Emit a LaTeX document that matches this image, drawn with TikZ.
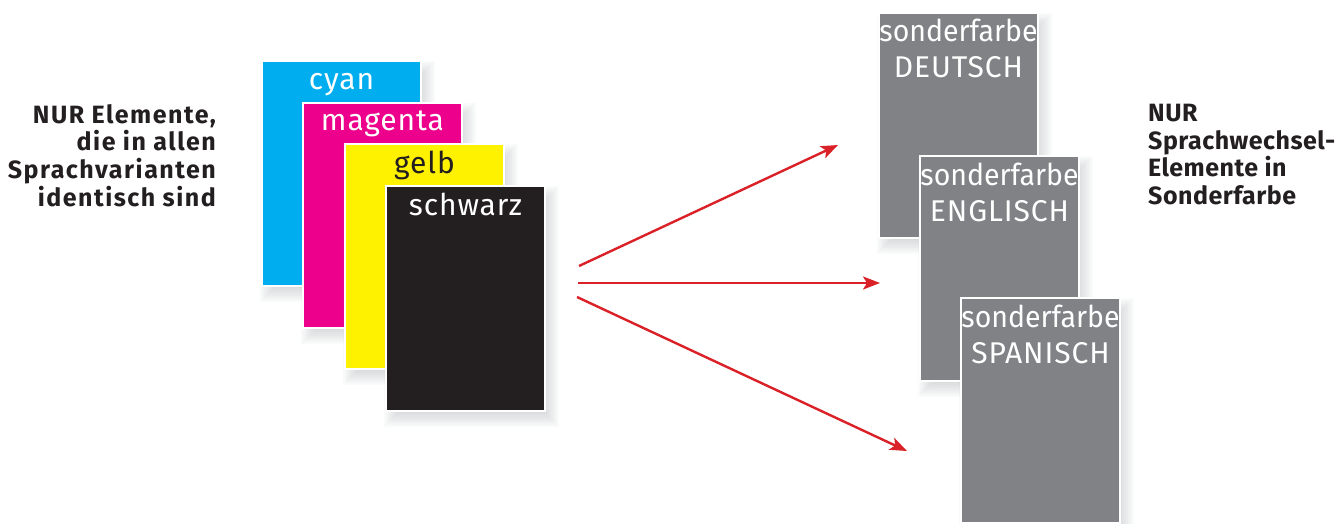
\documentclass[tikz,border=0pt]{standalone}
\usepackage{fontspec}
\setmainfont{Fira Sans}
\newfontfamily\cardfont[LetterSpace=3]{Fira Sans}
\newfontfamily\sonderfont[FakeStretch=0.95]{Fira Sans}
\newfontfamily\sidefont[LetterSpace=6]{Fira Sans}
\newfontfamily\sidefontr[LetterSpace=2]{Fira Sans}
\usetikzlibrary{arrows.meta,calc}
\definecolor{cyanC}{HTML}{00AEEF}
\definecolor{magentaC}{HTML}{EC008C}
\definecolor{yellowC}{HTML}{FFF200}
\definecolor{blackC}{HTML}{231F20}
\definecolor{grayC}{HTML}{808285}
\definecolor{redC}{HTML}{DA2128}
\definecolor{shadowC}{HTML}{9A9EA3}
\definecolor{textC}{HTML}{231F20}
\newcommand\softshadow[2]{%
  \foreach \k in {0,2,...,16}{%
    \fill[shadowC, fill opacity=0.05]
      (#1-2+\k,#2+\k) rectangle (#1+159+14-\k,#2+225+16-\k);
  }}
\tikzset{
  card/.style={rectangle, draw=white, line width=1.2pt, minimum width=159pt, minimum height=225pt,
    inner sep=0pt, outer sep=0pt, anchor=north west},
  cardlabel/.style={anchor=base, inner sep=0pt, font=\cardfont\fontsize{30}{36}\selectfont},
  sonderlabel/.style={anchor=base, inner sep=0pt, font=\sonderfont\fontsize{30}{36}\selectfont, text=white},
  sidetext/.style={inner sep=0pt, font=\sidefont\bfseries\fontsize{25}{27.7}\selectfont, text=textC},
  sidetextr/.style={inner sep=0pt, font=\sidefontr\bfseries\fontsize{25}{27.7}\selectfont, text=textC},
  arr/.style={draw=redC, line width=2.4pt, -{Stealth[length=17pt,width=13pt,inset=4pt]}}
}
\begin{document}
\begin{tikzpicture}[x=1pt,y=-1pt]
\clip (0,0) rectangle (1343,524);
\fill[white] (0,0) rectangle (1343,524);
% CMYK cards
\softshadow{262}{61}
\path (262,61) node[card, fill=cyanC] (cy) {};
\path ($(cy.north)+(0,29)$) node[cardlabel, text=white] (cyl) {cyan};
\softshadow{303}{103}
\path (303,103) node[card, fill=magentaC] (ma) {};
\path ($(ma.north)+(0,28)$) node[cardlabel, text=white] (mal) {magenta};
\softshadow{345}{144}
\path (345,144) node[card, fill=yellowC] (ye) {};
\path ($(ye.north)+(0,29)$) node[cardlabel, text=textC] (yel) {gelb};
\softshadow{386}{186}
\path (386,186) node[card, fill=blackC] (bk) {};
\path ($(bk.north)+(0,29)$) node[cardlabel, text=white] (bkl) {schwarz};
% spot colour cards
\softshadow{879}{13}
\path (879,13) node[card, fill=grayC] (de) {};
\path ($(de.north)+(0,29)$) node[sonderlabel] (dea) {sonderfarbe};
\path ($(de.north)+(0,65)$) node[cardlabel, text=white] (deb) {DEUTSCH};
\softshadow{920}{156}
\path (920,156) node[card, fill=grayC] (en) {};
\path ($(en.north)+(0,29)$) node[sonderlabel] (ena) {sonderfarbe};
\path ($(en.north)+(0,65)$) node[cardlabel, text=white] (enb) {ENGLISCH};
\softshadow{961}{298}
\path (961,298) node[card, fill=grayC] (es) {};
\path ($(es.north)+(0,29)$) node[sonderlabel] (esa) {sonderfarbe};
\path ($(es.north)+(0,65)$) node[cardlabel, text=white] (esb) {SPANISCH};
% side texts
\node[sidetext, anchor=north east, align=right] (lt) at (216,104) {NUR Elemente,\\die in allen\\Sprachvarianten\\identisch sind};
\node[sidetextr, anchor=north west, align=left] (rt) at (1148,104) {NUR\\Sprachwechsel-\\Elemente in\\Sonderfarbe};
% arrows
\coordinate (s1) at (579,266);
\coordinate (s2) at (578,283);
\coordinate (s3) at (577,297);
\coordinate (e1) at (838,145);
\coordinate (e2) at (880,283);
\coordinate (e3) at (907,451);
\draw[arr] (s1) -- (e1);
\draw[arr] (s2) -- (e2);
\draw[arr] (s3) -- (e3);
\end{tikzpicture}
\end{document}
